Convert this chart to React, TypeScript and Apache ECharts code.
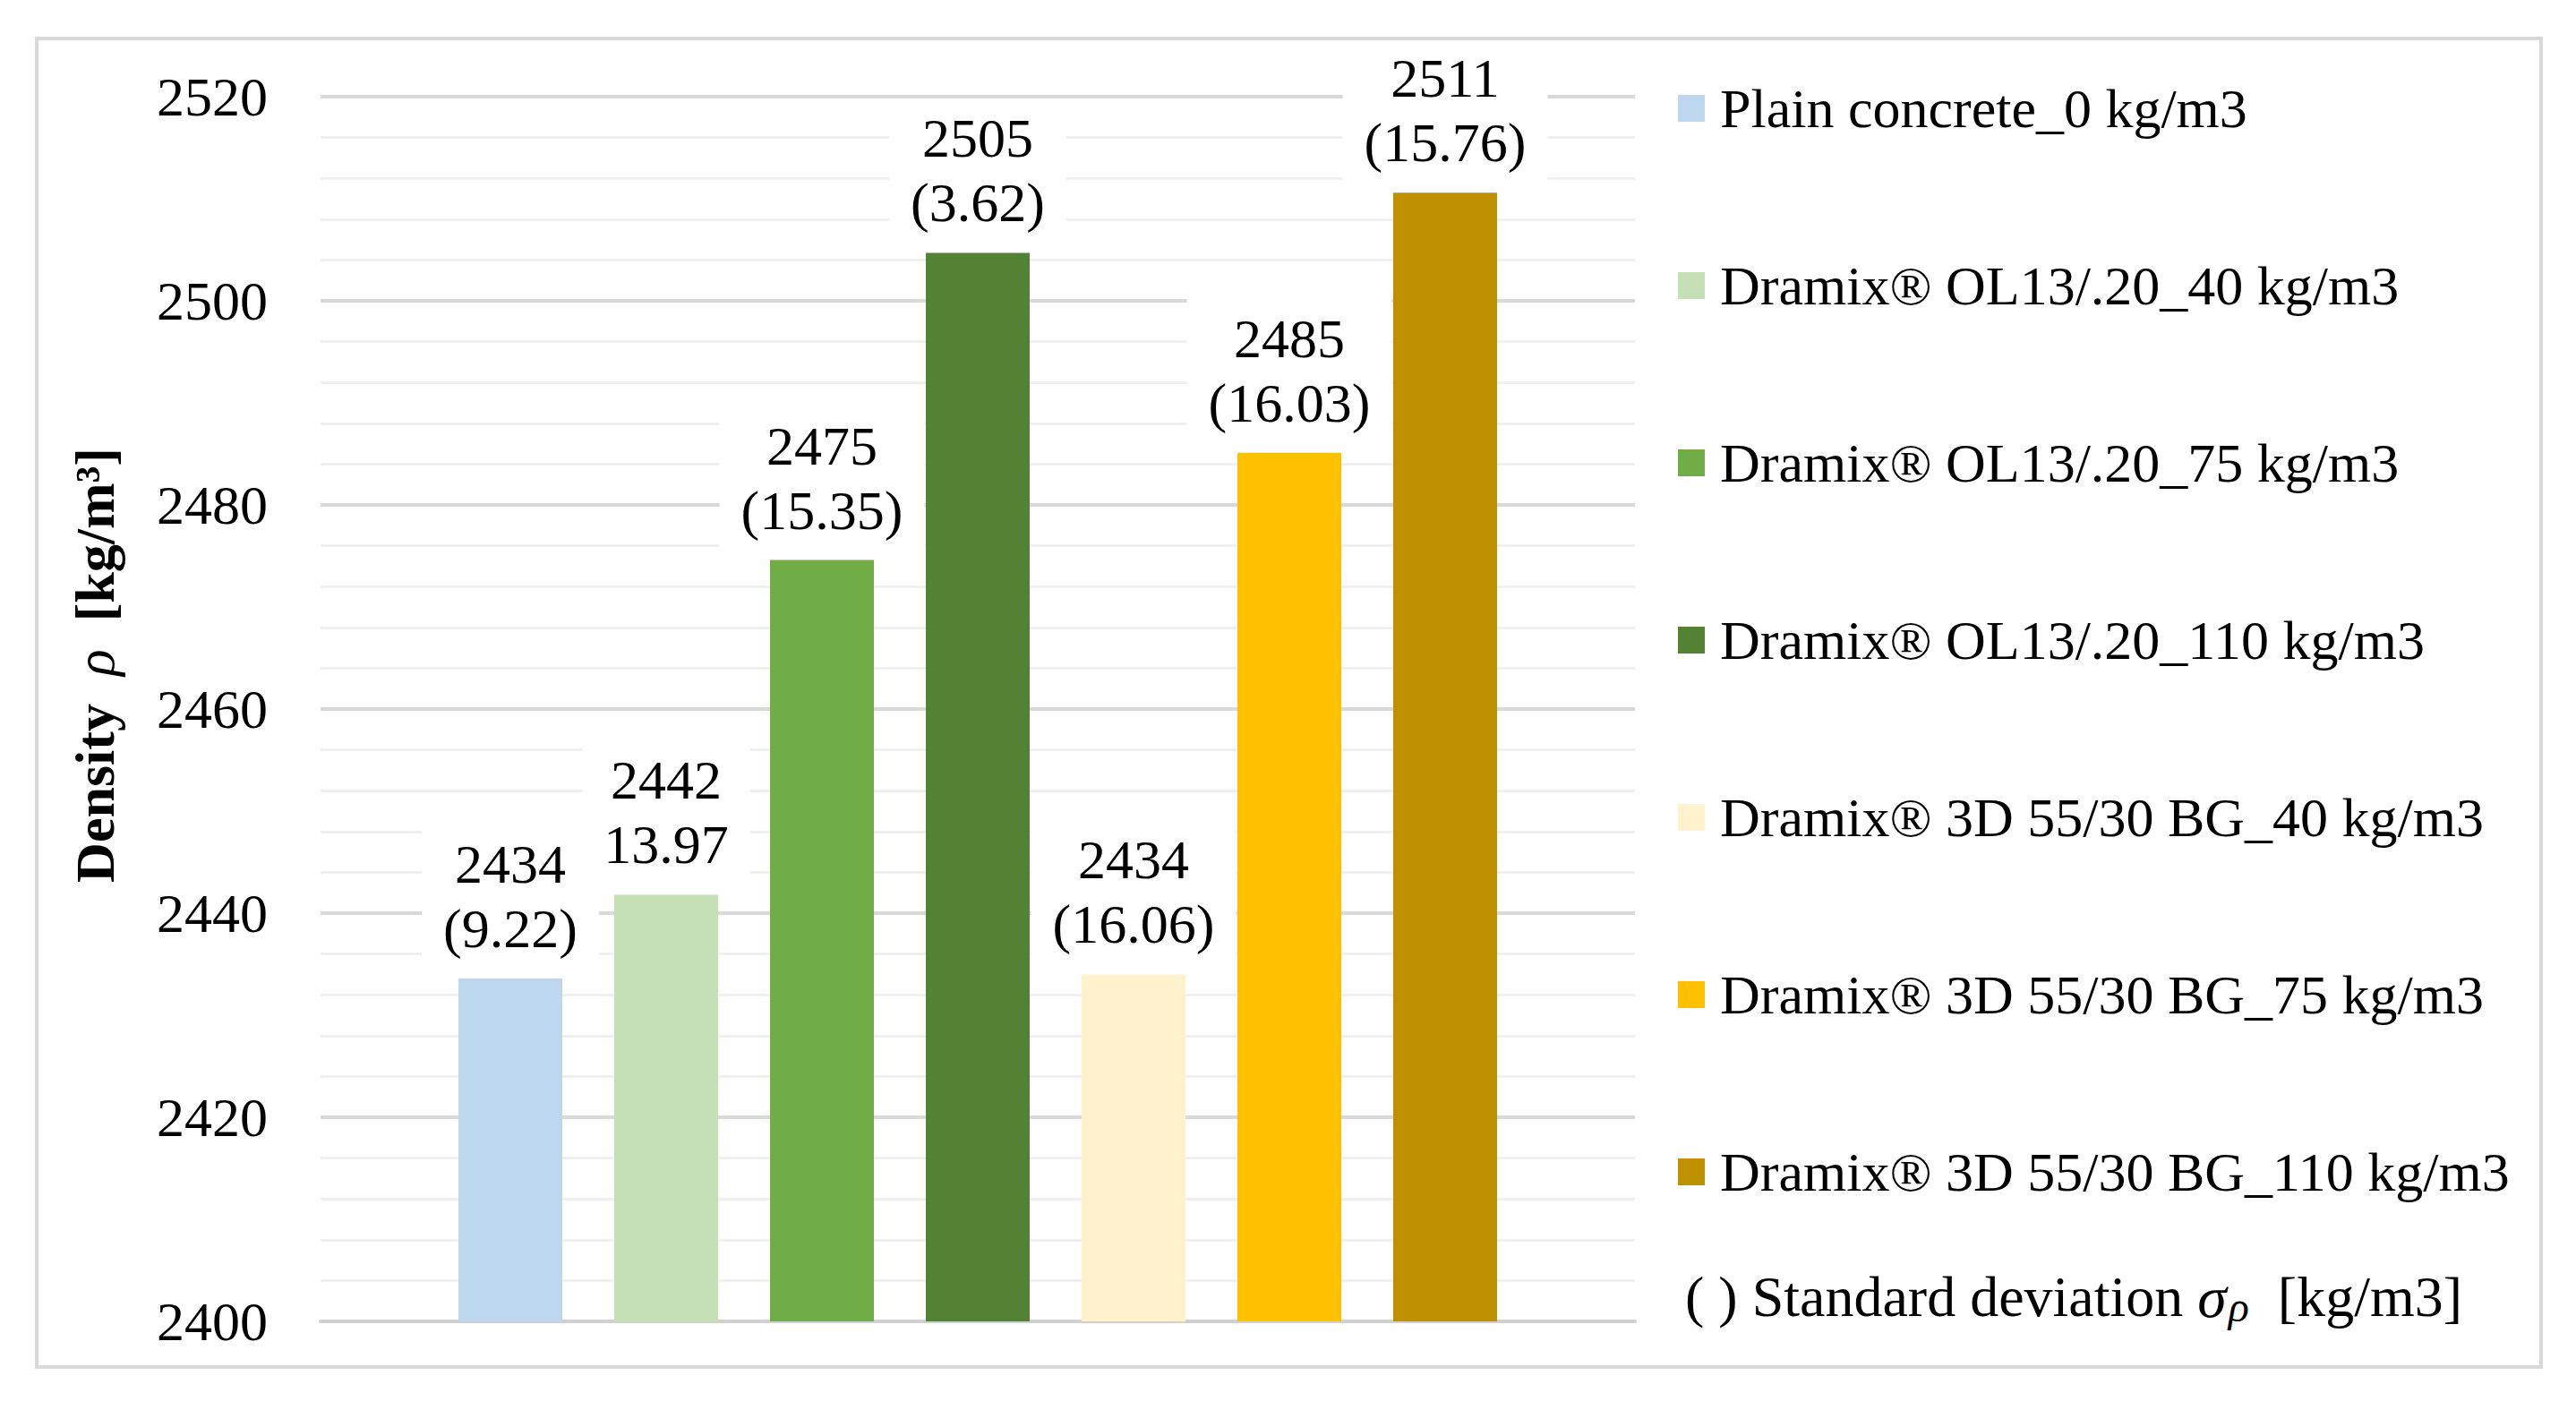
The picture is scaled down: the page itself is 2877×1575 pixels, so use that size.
import React, { useEffect, useRef } from 'react'
import * as echarts from 'echarts'

// one density value per mix
const mixes = [
  'Plain concrete_0 kg/m3',
  'Dramix® OL13/.20_40 kg/m3',
  'Dramix® OL13/.20_75 kg/m3',
  'Dramix® OL13/.20_110 kg/m3',
  'Dramix® 3D 55/30 BG_40 kg/m3',
  'Dramix® 3D 55/30 BG_75 kg/m3',
  'Dramix® 3D 55/30 BG_110 kg/m3',
]
const densities = [2433.6, 2441.8, 2474.6, 2504.7, 2434.0, 2485.1, 2510.6]
const stdDevLabels = ['(9.22)', '13.97', '(15.35)', '(3.62)', '(16.06)', '(16.03)', '(15.76)']
const yMin = 2400
const yMax = 2520
const yStep = 20

const colors = ['#BDD7EE', '#C5E0B4', '#70AD47', '#548235', '#FFF2CC', '#FFC000', '#BF9000']
const FONT = '"Liberation Serif", "Times New Roman", serif'

const App = () => {
  const chartRef = useRef<HTMLDivElement>(null)

  useEffect(() => {
    const chart = echarts.init(chartRef.current!, null, { renderer: 'svg' })

    const series = mixes.map((name, i) => ({
      name,
      type: 'bar',
      data: [densities[i]],
      barWidth: 116,
      barGap: '50%',
      itemStyle: { color: colors[i] },
      label: {
        show: true,
        position: 'top',
        distance: 6,
        formatter: () => `${Math.round(densities[i])}\n${stdDevLabels[i]}`,
        fontFamily: FONT,
        fontSize: 62,
        lineHeight: 72,
        color: '#000',
        backgroundColor: '#fff',
        padding: [8, 24, 14, 24],
      },
    }))

    chart.setOption({
      animation: false,
      backgroundColor: '#fff',
      textStyle: { fontFamily: FONT },
      grid: { left: 358, right: 1051, top: 108, bottom: 99, containLabel: false },
      xAxis: {
        type: 'category',
        data: [''],
        axisLine: { show: true, lineStyle: { color: '#d0d0d0', width: 4 } },
        axisTick: { show: false },
        axisLabel: { show: false },
        splitLine: { show: false },
      },
      yAxis: {
        type: 'value',
        min: yMin,
        max: yMax,
        interval: yStep,
        axisLine: { show: false },
        axisTick: { show: false },
        axisLabel: {
          fontFamily: FONT,
          fontSize: 62,
          color: '#000',
          margin: 59,
          formatter: (v: number) => String(v),
        },
        splitLine: { show: true, lineStyle: { color: '#d9d9d9', width: 4 } },
        minorTick: { show: false, splitNumber: 5 },
        minorSplitLine: { show: true, lineStyle: { color: '#f0f0f0', width: 3 } },
      },
      legend: {
        orient: 'vertical',
        left: 1869,
        top: 85,
        icon: 'rect',
        itemWidth: 30,
        itemHeight: 30,
        itemGap: 136,
        selectedMode: false,
        data: mixes,
        textStyle: {
          fontFamily: FONT,
          fontSize: 62,
          lineHeight: 62,
          color: '#000',
          padding: [0, 0, 0, 12],
        },
      },
      graphic: [
        {
          type: 'rect',
          z: 100,
          shape: { x: 41, y: 43, width: 2797, height: 1484 },
          style: { fill: 'none', stroke: '#d9d9d9', lineWidth: 4 },
          silent: true,
        },
        {
          type: 'text',
          x: 106,
          y: 743,
          rotation: Math.PI / 2,
          style: {
            text: '{b|Density}  {i|ρ}  {b|[kg/m³]}',
            x: 0,
            y: 0,
            align: 'center',
            verticalAlign: 'middle',
            textAlign: 'center',
            textVerticalAlign: 'middle',
            fill: '#000',
            font: `62px ${FONT}`,
            rich: {
              b: { fontFamily: FONT, fontSize: 62, fontWeight: 'bold', color: '#000' },
              i: { fontFamily: FONT, fontSize: 62, fontStyle: 'italic', color: '#000' },
            },
          },
        },
        {
          type: 'text',
          x: 1882,
          y: 1448,
          style: {
            text: '{t|( ) Standard deviation }{s|σ}{sub|ρ}{t|  [kg/m3]}',
            x: 0,
            y: 0,
            align: 'left',
            verticalAlign: 'middle',
            textAlign: 'left',
            textVerticalAlign: 'middle',
            fill: '#000',
            font: `64px ${FONT}`,
            rich: {
              t: { fontFamily: FONT, fontSize: 64, color: '#000' },
              s: { fontFamily: FONT, fontSize: 66, fontStyle: 'italic', color: '#000' },
              sub: {
                fontFamily: FONT,
                fontSize: 48,
                fontStyle: 'italic',
                color: '#000',
                padding: [22, 0, 0, 2],
              },
            },
          },
        },
      ],
      series,
    })

    return () => {
      chart.dispose()
    }
  }, [])

  return (
    <div
      ref={chartRef}
      style={{ position: 'fixed', left: 0, top: 0, width: '2877px', height: '1575px' }}
    ></div>
  )
}

export default App
